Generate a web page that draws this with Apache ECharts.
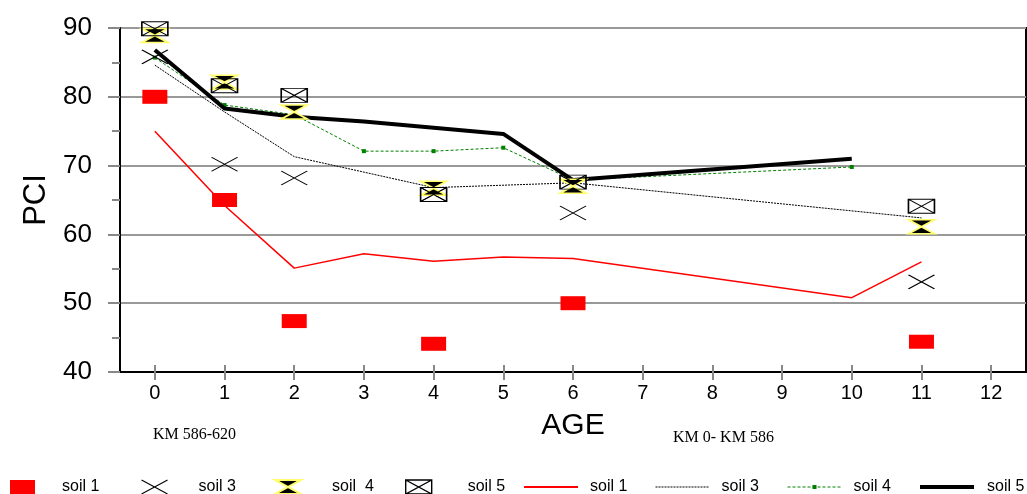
<!DOCTYPE html>
<html>
<head>
<meta charset="utf-8">
<script src="https://cdn.jsdelivr.net/npm/echarts@6/dist/echarts.min.js"></script>
<style>
  html, body { margin: 0; padding: 0; background: #fff; }
  #chart { width: 1027px; height: 494px; }
</style>
</head>
<body>
<div id="chart"></div>
<script>
// Pavement condition (PCI) against pavement age, measured points and trend lines per soil type
const ageTicks = [0, 1, 2, 3, 4, 5, 6, 7, 8, 9, 10, 11, 12];
const pciTicks = [40, 50, 60, 70, 80, 90];

// measured points
const soil1Ages = [0, 1, 2, 4, 6, 11];
const soil1Pci  = [80.0, 65.0, 47.4, 44.1, 50.0, 44.4];
const soil3Ages = [0, 1, 2, 4, 6, 11];
const soil3Pci  = [85.8, 70.2, 68.2, 65.8, 63.1, 53.1];
const soil4Ages = [0, 1, 2, 4, 6, 11];
const soil4Pci  = [88.9, 82.1, 77.8, 66.7, 67.0, 61.1];
const soil5Ages = [0, 1, 2, 4, 6, 11];
const soil5Pci  = [89.9, 81.6, 80.2, 65.8, 67.6, 64.1];

// trend lines
const soil1TrendAges = [0, 1, 2, 3, 4, 5, 6, 10, 11];
const soil1Trend     = [75.0, 64.2, 55.1, 57.2, 56.1, 56.7, 56.5, 50.8, 56.0];
const soil3TrendAges = [0, 1, 2, 4, 6, 11];
const soil3Trend     = [84.6, 77.8, 71.3, 66.8, 67.5, 62.4];
const soil4TrendAges = [0, 1, 2, 3, 4, 5, 6, 10];
const soil4Trend     = [85.7, 78.8, 77.4, 72.1, 72.1, 72.6, 67.9, 69.8];
const soil5TrendAges = [0, 1, 2, 3, 4, 5, 6, 10];
const soil5Trend     = [86.8, 78.3, 77.1, 76.4, 75.5, 74.6, 67.9, 71.0];

const sectionLabels = ['KM 586-620', 'KM 0- KM 586'];

const pairs = (xs, ys) => xs.map((x, i) => [x, ys[i]]);

const SANS = '"Liberation Sans", Arial, sans-serif';
const SERIF = '"Liberation Serif", "Times New Roman", serif';

const crossPath = 'path://M0,0 L26,14 M26,0 L0,14';
const hourglassPath = 'path://M0,0 L26,0 L13,7 L26,14 L0,14 L13,7 Z';
const boxPath = 'path://M0,0 L26,0 L26,14 L0,14 Z M0,0 L26,14 M26,0 L0,14';

const stripTag = name => name.replace(/ \((measured|trend)\)$/, '');

// one legend block per entry so each can sit at its own position
function legendItem(name, left, iconW, iconH, gap, extra) {
  const entry = Object.assign({ name: name }, extra || {});
  return {
    data: [entry],
    left: left,
    top: 479,
    padding: 0,
    itemWidth: iconW,
    itemHeight: iconH,
    selectedMode: false,
    formatter: stripTag,
    textStyle: { fontFamily: SANS, fontSize: 16, color: '#000', padding: [0, 0, 0, gap] }
  };
}

const chart = echarts.init(document.getElementById('chart'), null, { renderer: 'canvas' });

const xAxisBase = {
  type: 'value',
  min: -0.5,
  max: 12.5,
  position: 'bottom',
  splitLine: { show: false }
};

chart.setOption({
  animation: false,
  backgroundColor: '#fff',
  grid: {
    left: 120, right: 1, top: 28, bottom: 122,
    show: true, borderColor: '#000', borderWidth: 2, backgroundColor: 'transparent'
  },
  xAxis: [
    Object.assign({}, xAxisBase, {
      name: 'AGE',
      nameLocation: 'middle',
      nameGap: 39,
      nameTextStyle: { fontFamily: SANS, fontSize: 30, color: '#000' },
      axisLine: { show: true, onZero: false, lineStyle: { color: '#000', width: 2 } },
      axisTick: { show: true, length: 8, customValues: ageTicks, lineStyle: { color: '#888', width: 2 } },
      axisLabel: {
        customValues: ageTicks, margin: 11,
        fontFamily: SANS, fontSize: 20, color: '#000',
        formatter: v => String(v)
      }
    }),
    Object.assign({}, xAxisBase, {
      axisLine: { show: false, onZero: false },
      axisTick: { show: true, inside: true, length: 7, customValues: ageTicks, lineStyle: { color: '#888', width: 2 } },
      axisLabel: { show: false }
    })
  ],
  yAxis: {
    type: 'value',
    min: pciTicks[0],
    max: pciTicks[pciTicks.length - 1],
    interval: 10,
    name: 'PCI',
    nameLocation: 'middle',
    nameGap: 64,
    nameRotate: 90,
    nameTextStyle: { fontFamily: SANS, fontSize: 31, color: '#000' },
    axisLine: { show: true, onZero: false, lineStyle: { color: '#000', width: 2 } },
    axisTick: { show: true, length: 12, lineStyle: { color: '#888', width: 2 } },
    minorTick: { show: true, splitNumber: 2, length: 8, lineStyle: { color: '#888', width: 2 } },
    axisLabel: { margin: 28, fontFamily: SANS, fontSize: 26, color: '#000' },
    splitLine: { show: true, lineStyle: { color: '#999', width: 2 } }
  },
  legend: [
    legendItem('soil 1 (measured)', 10, 25, 14, 22),
    legendItem('soil 3 (measured)', 141, 26, 14, 26, { itemStyle: { borderWidth: 1.1 } }),
    legendItem('soil  4 (measured)', 274, 26, 14, 26, { itemStyle: { borderWidth: 2 } }),
    legendItem('soil 5 (measured)', 405, 26, 14, 31, { itemStyle: { borderWidth: 1.4 } }),
    legendItem('soil 1 (trend)', 523, 54, 14, 7,
      { itemStyle: { opacity: 0 }, lineStyle: { width: 2 } }),
    legendItem('soil 3 (trend)', 655, 54, 14, 7,
      { itemStyle: { opacity: 0 }, lineStyle: { width: 1 } }),
    legendItem('soil 4 (trend)', 787, 54, 5, 7,
      { lineStyle: { width: 1 } }),
    legendItem('soil 5 (trend)', 918, 54, 14, 8,
      { itemStyle: { opacity: 0 }, lineStyle: { width: 4 } })
  ],
  graphic: [
    { type: 'text', left: 153, top: 427, style: { text: sectionLabels[0], font: '16px ' + SERIF, fill: '#000' } },
    { type: 'text', left: 673, top: 430, style: { text: sectionLabels[1], font: '16px ' + SERIF, fill: '#000' } }
  ],
  series: [
    {
      name: 'soil 1 (trend)', type: 'line', data: pairs(soil1TrendAges, soil1Trend),
      symbol: 'none', lineStyle: { color: '#ff0000', width: 1.5 }, itemStyle: { color: '#ff0000' },
      emphasis: { disabled: true }, z: 2
    },
    {
      name: 'soil 3 (trend)', type: 'line', data: pairs(soil3TrendAges, soil3Trend),
      symbol: 'none', lineStyle: { color: '#000', width: 1, type: [2, 1] }, itemStyle: { color: '#000' },
      emphasis: { disabled: true }, z: 2
    },
    {
      name: 'soil 4 (trend)', type: 'line', data: pairs(soil4TrendAges, soil4Trend),
      symbol: 'rect', symbolSize: 4, showSymbol: true,
      lineStyle: { color: '#008000', width: 1, type: [3, 2] }, itemStyle: { color: '#008000' },
      emphasis: { disabled: true }, z: 2
    },
    {
      name: 'soil 5 (trend)', type: 'line', data: pairs(soil5TrendAges, soil5Trend),
      symbol: 'none', lineStyle: { color: '#000', width: 4 }, itemStyle: { color: '#000' },
      emphasis: { disabled: true }, z: 3
    },
    {
      name: 'soil 1 (measured)', type: 'scatter', data: pairs(soil1Ages, soil1Pci),
      symbol: 'rect', symbolSize: [25, 14], itemStyle: { color: '#ff0000', opacity: 1 },
      emphasis: { disabled: true }, z: 4
    },
    {
      name: 'soil 3 (measured)', type: 'scatter', data: pairs(soil3Ages, soil3Pci),
      symbol: crossPath, symbolSize: [26, 14],
      itemStyle: { color: 'rgba(0,0,0,0)', borderColor: '#000', borderWidth: 1.1, opacity: 1 },
      emphasis: { disabled: true }, z: 4
    },
    {
      name: 'soil  4 (measured)', type: 'scatter', data: pairs(soil4Ages, soil4Pci),
      symbol: hourglassPath, symbolSize: [26, 14],
      itemStyle: { color: '#000', borderColor: '#ffff70', borderWidth: 2, opacity: 1 },
      emphasis: { disabled: true }, z: 4
    },
    {
      name: 'soil 5 (measured)', type: 'scatter', data: pairs(soil5Ages, soil5Pci),
      symbol: boxPath, symbolSize: [26, 14],
      itemStyle: { color: 'rgba(0,0,0,0)', borderColor: '#000', borderWidth: 1.2, opacity: 1 },
      emphasis: { disabled: true }, z: 5
    }
  ]
});
</script>
</body>
</html>
